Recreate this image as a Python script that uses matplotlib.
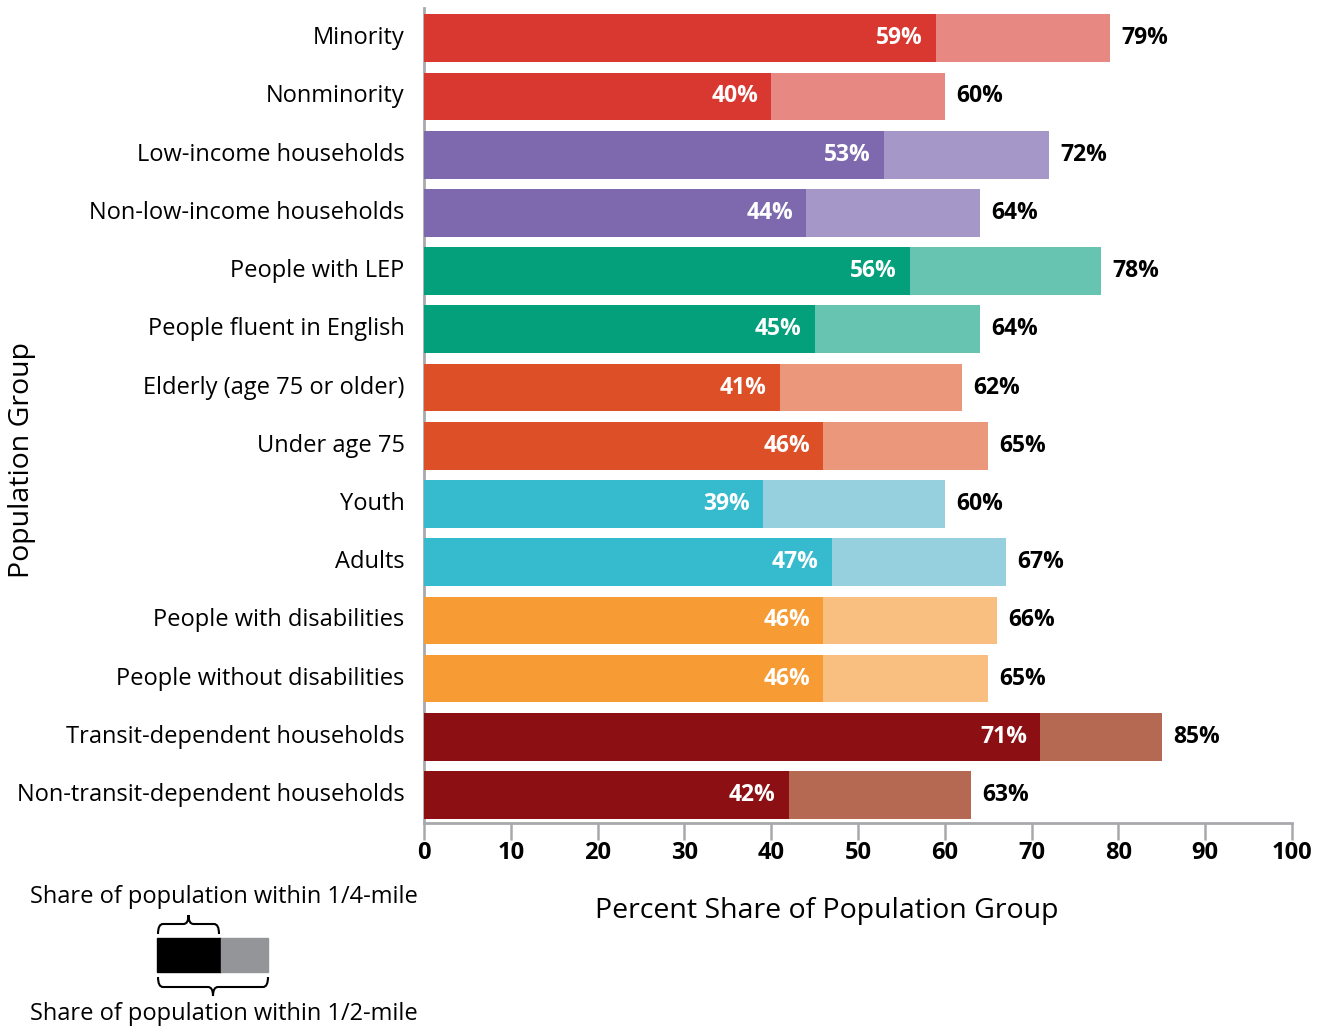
import matplotlib
matplotlib.use("Agg")
import matplotlib.pyplot as plt
import matplotlib.transforms as mtransforms
from matplotlib.path import Path
from matplotlib.patches import PathPatch, Rectangle

plt.rcParams['font.family'] = ['Open Sans', 'DejaVu Sans']

groups = [
    "Minority", "Nonminority",
    "Low-income households", "Non-low-income households",
    "People with LEP", "People fluent in English",
    "Elderly (age 75 or older)", "Under age 75",
    "Youth", "Adults",
    "People with disabilities", "People without disabilities",
    "Transit-dependent households", "Non-transit-dependent households",
]
quarter_mile = [59, 40, 53, 44, 56, 45, 41, 46, 39, 47, 46, 46, 71, 42]
half_mile = [79, 60, 72, 64, 78, 64, 62, 65, 60, 67, 66, 65, 85, 63]

dark_colors = ["#D93830", "#D93830", "#7E69AF", "#7E69AF", "#04A07C", "#04A07C",
               "#DD4F27", "#DD4F27", "#36BACE", "#36BACE", "#F79B34", "#F79B34",
               "#8C1013", "#8C1013"]
light_colors = ["#E88882", "#E88882", "#A697C9", "#A697C9", "#66C4B1", "#66C4B1",
                "#EA977B", "#EA977B", "#96D0DE", "#96D0DE", "#F9BF81", "#F9BF81",
                "#B56852", "#B56852"]

x_ticks = [0, 10, 20, 30, 40, 50, 60, 70, 80, 90, 100]

W, H = 1323, 1030
fig = plt.figure(figsize=(W / 100, H / 100), dpi=100)

ax_l, ax_r, ax_t, ax_b = 424, 1292, 8, 823
ax = fig.add_axes([ax_l / W, 1 - ax_b / H, (ax_r - ax_l) / W, (ax_b - ax_t) / H])

ypos = list(range(len(groups)))
bar_h = 0.82
ax.barh(ypos, half_mile, height=bar_h, color=light_colors, zorder=2)
ax.barh(ypos, quarter_mile, height=bar_h, color=dark_colors, zorder=3)

for y, q, h in zip(ypos, quarter_mile, half_mile):
    ax.text(q - 1.5, y, f"{q}%", ha="right", va="center", color="white",
            fontsize=16.5, fontweight="bold", zorder=4)
    ax.text(h + 1.3, y, f"{h}%", ha="left", va="center", color="black",
            fontsize=16.5, fontweight="bold", zorder=4)

ax.set_xlim(0, 100)
ax.set_ylim(13.48, -0.52)
ax.set_yticks(ypos)
ax.set_yticklabels(groups, fontsize=17)
ax.tick_params(axis="y", length=0, pad=14)
# nudge category labels slightly upward
shift = mtransforms.ScaledTranslation(0, 3 / 100, fig.dpi_scale_trans)
for lbl in ax.get_yticklabels():
    lbl.set_transform(lbl.get_transform() + shift)

ax.set_xticks(x_ticks)
ax.set_xticklabels([str(t) for t in x_ticks], fontsize=17, fontweight="bold")
ax.tick_params(axis="x", length=12, width=1.8, color="#A7A9AC", pad=1)

for side in ["top", "right"]:
    ax.spines[side].set_visible(False)
for side in ["left", "bottom"]:
    ax.spines[side].set_color("#A7A9AC")
    ax.spines[side].set_linewidth(2)

# Overlay in pixel coordinates for axis titles and the key
key = fig.add_axes([0, 0, 1, 1], facecolor="none")
key.set_xlim(0, W)
key.set_ylim(H, 0)
key.axis("off")

key.text(827, 911, "Percent Share of Population Group", ha="center", va="center", fontsize=20.5)
key.text(22, 460, "Population Group", ha="center", va="center", rotation=90, fontsize=20.5)

key.add_patch(Rectangle((157, 938), 64, 34, color="black"))
key.add_patch(Rectangle((221, 938), 47, 34, color="#939598"))


def brace(x0, x1, y_base, y_mid, y_tip):
    xm = (x0 + x1) / 2
    r = 5
    verts = [
        (x0, y_base), (x0, y_mid), (x0 + r, y_mid),
        (xm - r, y_mid), (xm, y_mid), (xm, y_tip),
        (xm, y_mid), (xm + r, y_mid),
        (x1 - r, y_mid), (x1, y_mid), (x1, y_base),
    ]
    codes = [Path.MOVETO, Path.CURVE3, Path.CURVE3,
             Path.LINETO, Path.CURVE3, Path.CURVE3,
             Path.CURVE3, Path.CURVE3,
             Path.LINETO, Path.CURVE3, Path.CURVE3]
    key.add_patch(PathPatch(Path(verts, codes), fill=False, lw=1.5, color="black"))


brace(158, 219, 934, 924, 915)
brace(158, 268, 977, 987, 996)

key.text(224, 897, "Share of population within 1/4-mile", ha="center", va="center", fontsize=17)
key.text(224, 1014, "Share of population within 1/2-mile", ha="center", va="center", fontsize=17)

fig.savefig("out.png", dpi=100)
